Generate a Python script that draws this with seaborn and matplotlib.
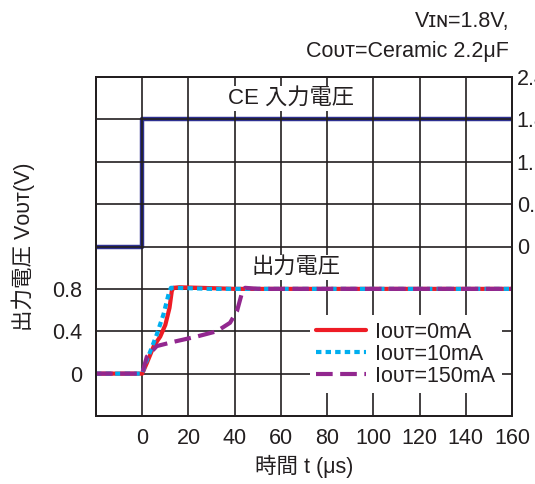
import numpy as np
import matplotlib
matplotlib.use("Agg")
import matplotlib.pyplot as plt
import seaborn as sns

# --- data ---
ce_t = [-20, 0, 0, 160]
ce_v = [0, 0, 1.8, 1.8]

t_0ma = [-20, 0, 2, 5, 7.8, 10, 11.8, 12.8, 13.5, 16, 25, 40, 160]
v_0ma = [0, 0, 0.10, 0.26, 0.35, 0.46, 0.62, 0.78, 0.81, 0.815, 0.81, 0.80, 0.80]

t_10ma = [-20, 0, 1.5, 3.5, 6.3, 9.2, 11.4, 12.4, 14, 30, 160]
v_10ma = [0, 0, 0.10, 0.21, 0.37, 0.56, 0.75, 0.81, 0.81, 0.80, 0.80]

t_150ma = [-20, 0, 2, 6.3, 13.5, 23.6, 32.3, 38, 41, 43, 44.5, 50, 160]
v_150ma = [0, 0, 0.16, 0.26, 0.30, 0.35, 0.40, 0.48, 0.59, 0.75, 0.81, 0.80, 0.80]

x_ticks = [-20, 0, 20, 40, 60, 80, 100, 120, 140, 160]
x_labels = ["", "0", "20", "40", "60", "80", "100", "120", "140", "160"]
y_ticks = [-0.4, 0, 0.4, 0.8, 1.2, 1.6, 2.0, 2.4, 2.8]
y_labels = ["", "0", "0.4", "0.8", "", "", "", "", ""]
y2_ticks = [0, 0.6, 1.2, 1.8, 2.4]
y2_labels = ["0", "0.6", "1.2", "1.8", "2.4"]

sns.set_style("white")
plt.rcParams["font.family"] = ["Liberation Sans", "DejaVu Sans", "Noto Sans CJK JP"]

ink = "#231f20"
fs = 15.5
fig = plt.figure(figsize=(5.35, 4.84), dpi=100)
ax = fig.add_axes([96 / 535, 1 - 416 / 484, 416 / 535, 339 / 484])
ax2 = ax.twinx()

ax.set_xlim(-20, 160)
ax.set_ylim(-0.4, 2.8)
ax2.set_ylim(-2.4, 2.4)

ax.set_xticks(x_ticks, x_labels)
ax.set_yticks(y_ticks, y_labels)
ax2.set_yticks(y2_ticks, y2_labels)
ax.grid(True, color=ink, linewidth=1.2)
ax.tick_params(axis="y", length=0, labelsize=fs, pad=10, colors=ink)
ax.tick_params(axis="x", length=0, labelsize=fs, pad=9, colors=ink)
ax2.tick_params(axis="y", length=0, labelsize=fs, pad=3.5, colors=ink)
for a in (ax, ax2):
    for s in a.spines.values():
        s.set_color(ink)
        s.set_linewidth(1.4)
ax.set_axisbelow(True)

sns.lineplot(x=ce_t, y=ce_v, ax=ax2, estimator=None, sort=False,
             color="#2e3192", linewidth=3.2)

sns.lineplot(x=t_0ma, y=v_0ma, ax=ax, estimator=None, sort=False,
             color="#ee1c25", linewidth=3, label="Iᴏᴜᴛ=0mA")
sns.lineplot(x=t_10ma, y=v_10ma, ax=ax, estimator=None, sort=False,
             color="#00aeef", linewidth=3, linestyle=(0, (1.3, 1)),
             label="Iᴏᴜᴛ=10mA")
sns.lineplot(x=t_150ma, y=v_150ma, ax=ax, estimator=None, sort=False,
             color="#92278f", linewidth=3, linestyle=(0, (4, 1.8)),
             label="Iᴏᴜᴛ=150mA")
for l in ax.get_lines():
    l.set_dash_capstyle("butt")

ax.set_zorder(ax2.get_zorder() + 1)
ax.patch.set_visible(False)

leg = ax.legend(loc="lower right", bbox_to_anchor=(0.976, 0.067), borderaxespad=0,
                frameon=True, fontsize=fs, handlelength=2.3, handletextpad=0.45,
                labelspacing=0.05, borderpad=0.3)
leg.get_frame().set_facecolor("white")
leg.get_frame().set_edgecolor("none")
leg.get_frame().set_alpha(1)
for txt in leg.get_texts():
    txt.set_color(ink)

ax.text(64.4, 2.6, "CE 入力電圧", ha="center", va="center", fontsize=fs + 0.5,
        color=ink, bbox=dict(facecolor="white", edgecolor="none", pad=1.5))
ax.text(66.6, 1.0, "出力電圧", ha="center", va="center", fontsize=fs + 0.5,
        color=ink, bbox=dict(facecolor="white", edgecolor="none", pad=1.5))

ax.set_xlabel("時間 t (μs)", fontsize=fs, color=ink, labelpad=4)
ax.set_ylabel("出力電圧 Vᴏᴜᴛ(V)", fontsize=fs, color=ink, labelpad=12)
ax2.set_ylabel("")

fig.text(509 / 535, 1 - 22 / 484, "Vɪɴ=1.8V,", ha="right", va="center",
         fontsize=fs, color=ink)
fig.text(509 / 535, 1 - 51 / 484, "Cᴏᴜᴛ=Ceramic 2.2μF", ha="right", va="center",
         fontsize=fs, color=ink)

fig.savefig("out.png", dpi=100)
